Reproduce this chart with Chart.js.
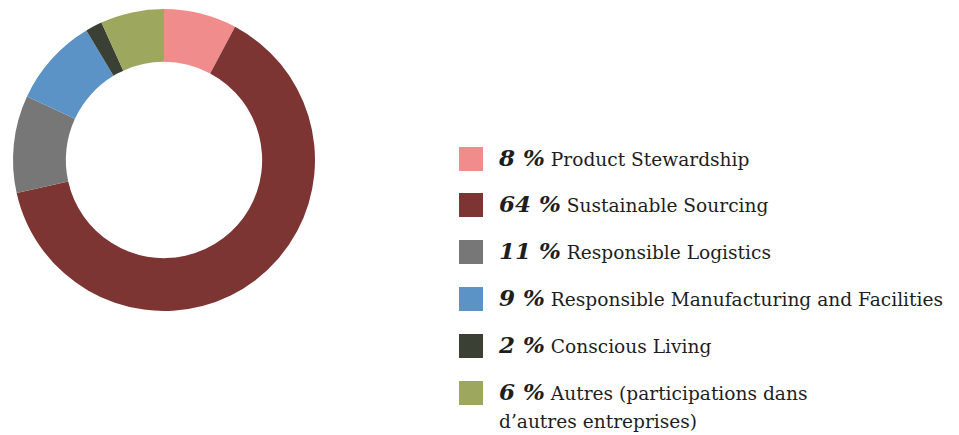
<!DOCTYPE html>
<html>
<head>
<meta charset="utf-8">
<script src="https://cdn.jsdelivr.net/npm/chart.js@4"></script>
<style>
  html, body { margin: 0; padding: 0; background: #fff; }
  body { width: 959px; height: 435px; position: relative; overflow: hidden; }
  #wrap { position: absolute; left: 0; top: 0; width: 328px; height: 320px; }
  #legend { position: absolute; left: 459px; top: 0; margin: 0; padding: 0; list-style: none; }
  #legend li { position: absolute; left: 0; width: 500px; }
  #legend .sw { position: absolute; left: 0; top: 0; width: 24px; height: 24px; }
  #legend .txt {
    position: absolute; left: 40px; top: -3px;
    font-family: 'DejaVu Serif', serif; font-size: 18.6px; line-height: 28px; color: #1e1e1e;
  }
  #legend .pct { font-weight: bold; font-style: italic; font-size: 23px; }
</style>
</head>
<body>
<div id="wrap"><canvas id="donut"></canvas></div>
<ul id="legend"></ul>
<script>
/* ── 데이터 ─────────────────────────────────────────────────────── */
const labels = [
  'Product Stewardship',
  'Sustainable Sourcing',
  'Responsible Logistics',
  'Responsible Manufacturing and Facilities',
  'Conscious Living',
  'Autres (participations dans<br>d\u2019autres entreprises)',
];
const percentLabels = ['8 %', '64 %', '11 %', '9 %', '2 %', '6 %'];
// slice sizes as read from the ring
const shares = [7.8, 63.7, 10.4, 9.5, 1.8, 6.8];
const colors = ['#f08c8c', '#7d3533', '#777777', '#5b93c7', '#3b4035', '#9da85e'];

const ROW_TOPS = [147, 193, 240, 287, 334, 381];

/* ── Doughnut ──────────────────────────────────────────────────── */
new Chart(document.getElementById('donut'), {
  type: 'doughnut',
  data: {
    labels: labels.map(l => l.replace('<br>', ' ')),
    datasets: [{
      data: shares,
      backgroundColor: colors,
      borderWidth: 0,
    }],
  },
  options: {
    responsive: true,
    maintainAspectRatio: false,
    animation: false,
    radius: 151,
    cutout: '65%',
    layout: { padding: 0 },
    plugins: {
      legend: { display: false },
      tooltip: { enabled: false },
    },
  },
});

/* ── 범례 (HTML) ───────────────────────────────────────────────── */
const legend = document.getElementById('legend');
labels.forEach((label, i) => {
  const li = document.createElement('li');
  li.style.top = ROW_TOPS[i] + 'px';
  li.innerHTML =
    `<span class="sw" style="background:${colors[i]}"></span>` +
    `<span class="txt"><span class="pct">${percentLabels[i]}</span> ${label}</span>`;
  legend.appendChild(li);
});
</script>
</body>
</html>
